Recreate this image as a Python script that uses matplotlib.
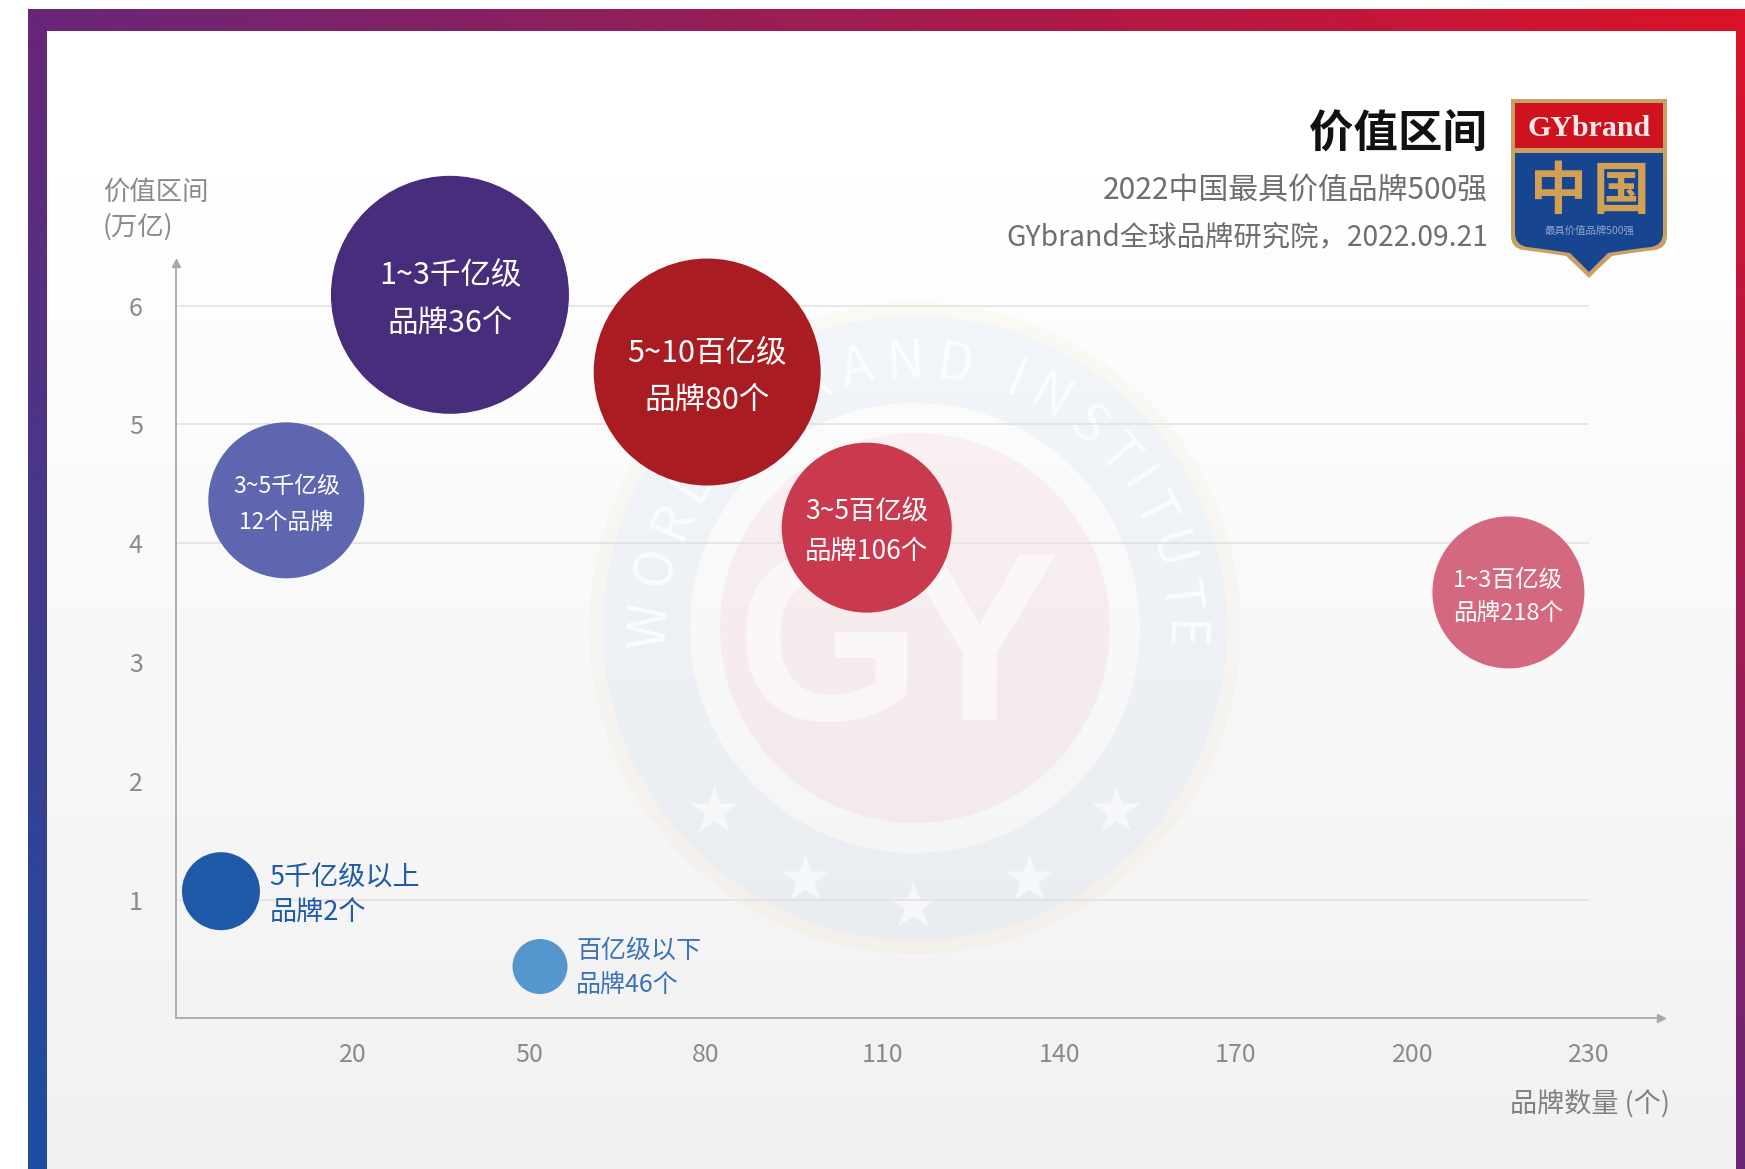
import numpy as np
import matplotlib
matplotlib.use("Agg")
import matplotlib.pyplot as plt
from matplotlib.patches import Circle, Wedge, PathPatch, Rectangle
from matplotlib.path import Path

plt.rcParams['font.family'] = ['Noto Sans CJK SC', 'DejaVu Sans']

# ---------- data ----------
brand_counts = [36.5, 80.2, 107.3, 216.3, 8.7, -2.4, 51.8]
value_range = [6.09, 5.44, 4.13, 3.585, 4.36, 1.07, 0.436]
bubble_area = [29364, 26712, 14982, 11977, 12616, 3154, 1568]
bubble_labels = ['1~3千亿级\n品牌36个', '5~10百亿级\n品牌80个', '3~5百亿级\n品牌106个',
                 '1~3百亿级\n品牌218个', '3~5千亿级\n12个品牌', '5千亿级以上\n品牌2个', '百亿级以下\n品牌46个']
bubble_colors = ['#472d7b', '#a91c22', '#c93a4e', '#d4687e', '#5e66b0', '#1f5aa8', '#5596cf']
label_sizes = [22, 22, 19, 17, 16.5, 19.5, 18]
label_spacing = [1.75, 1.7, 1.58, 1.54, 1.7, 1.35, 1.45]
x_ticks = [20, 50, 80, 110, 140, 170, 200, 230]
y_ticks = [1, 2, 3, 4, 5, 6]
grid_levels = [1, 4, 5, 6]
title = '价值区间'
subtitle_1 = '2022中国最具价值品牌500强'
subtitle_2 = 'GYbrand全球品牌研究院，2022.09.21'
y_title = '价值区间\n(万亿)'
x_title = '品牌数量 (个)'

W, H = 1745, 1169
fig = plt.figure(figsize=(W / 100, H / 100), dpi=100, facecolor='white')

# ---------- background in pixel coordinates ----------
bg = fig.add_axes([0, 0, 1, 1], zorder=0)
bg.set_xlim(0, W)
bg.set_ylim(H, 0)
bg.axis('off')

yy, xx = np.mgrid[0:H, 0:W]
t = (xx / W + (1 - yy / H)) / 2
blue, purple, red = np.array([26, 79, 163.]), np.array([104, 38, 120.]), np.array([222, 18, 38.])
frame = np.zeros((H, W, 3))
for c in range(3):
    frame[..., c] = np.interp(t, [0, 0.5, 1], [blue[c], purple[c], red[c]])
img = np.full((H, W, 3), 255.)
mask = (xx >= 28) & (yy >= 9)
img[mask] = frame[mask]
inner = (xx >= 47) & (yy >= 31) & (xx < 1736)
shade = np.interp(yy, [0, 180, 1169], [255, 255, 241])
for c in range(3):
    img[..., c][inner] = shade[inner]
bg.imshow(img / 255, extent=(0, W, H, 0), aspect='auto', interpolation='nearest', zorder=0)

# watermark
cx, cy = 915, 628
bg.add_patch(Wedge((cx, cy), 326, 0, 360, width=14, fc='#e8c98a', alpha=0.07, ec='none', zorder=1))
bg.add_patch(Wedge((cx, cy), 312, 0, 360, width=87, fc='#2a66b8', alpha=0.05, ec='none', zorder=2))
bg.add_patch(Circle((cx, cy), 195, fc='#dc1226', alpha=0.05, ec='none', zorder=3))
bg.text(828, 658, 'G', fontsize=172, fontweight='bold', color='white', alpha=0.6, ha='center', va='center',
        family='Liberation Sans', zorder=4)
bg.text(980, 658, 'Y', fontsize=172, fontweight='bold', color='white', alpha=0.6, ha='center', va='center',
        family='Liberation Sans', zorder=4)
arc = 'WORLD BRAND INSTITUTE'
char_w = {'W': 1.3, 'O': 1.1, 'R': .9, 'L': .8, 'D': 1.0, ' ': .55, 'B': .9, 'A': .95, 'N': 1.05,
          'I': .5, 'S': .85, 'T': .85, 'U': 1.0, 'E': .8}
w = np.array([char_w[ch] for ch in arc])
pos = np.cumsum(w) - w / 2
angs = 186 - 192 * pos / w.sum()
for ch, a in zip(arc, angs):
    r = np.deg2rad(a)
    bg.text(cx + 266 * np.cos(r), cy - 266 * np.sin(r), ch, fontsize=38, color='white', alpha=0.75,
            rotation=a - 90, rotation_mode='anchor', ha='center', va='center', zorder=4)
star_x = [714, 1116, 805, 1029, 913]
star_y = [811, 811, 879, 879, 906]
bg.plot(star_x, star_y, ls='none', marker='*', ms=36, mfc='white', mec='none', alpha=0.6, zorder=4)

# shield logo
def shield(x0, x1, y0, ys, tipy):
    m = (x0 + x1) / 2
    v = [(x0, y0), (x1, y0), (x1, ys), (x1, ys + 12), (x1 - 12, ys + 14), (x1 - 30, ys + 16),
         (x1 - 55, ys + 20), (m + 8, tipy - 8), (m, tipy),
         (m - 8, tipy - 8), (x0 + 55, ys + 20), (x0 + 30, ys + 16),
         (x0 + 12, ys + 14), (x0, ys + 12), (x0, ys), (x0, y0)]
    c = [Path.MOVETO, Path.LINETO, Path.LINETO, Path.CURVE3, Path.CURVE3, Path.CURVE3, Path.CURVE3,
         Path.CURVE3, Path.CURVE3, Path.CURVE3, Path.CURVE3, Path.CURVE3, Path.CURVE3, Path.CURVE3,
         Path.CURVE3, Path.CLOSEPOLY]
    return Path(v, c)

bg.add_patch(PathPatch(shield(1511, 1667, 99, 236, 278), fc='#c9a063', ec='none', zorder=5))
bg.add_patch(PathPatch(shield(1515, 1663, 103, 233, 272), fc='#17458f', ec='none', zorder=6))
bg.add_patch(Rectangle((1515, 103), 148, 45, fc='#d0121f', ec='none', zorder=7))
bg.add_patch(Rectangle((1515, 148), 148, 5, fc='#c9a063', ec='none', zorder=7))
bg.text(1589.5, 128, 'GYbrand', fontsize=21.5, fontweight='bold', color='#fbeaea', family='Liberation Serif',
        ha='center', va='center', zorder=8)
bg.text(1559, 192, '中', fontsize=41, fontweight='bold', color='#d2a055', ha='center', va='center', zorder=8)
bg.text(1621, 192, '国', fontsize=41, fontweight='bold', color='#d2a055', ha='center', va='center', zorder=8)
bg.text(1589.5, 231, '最具价值品牌500强', fontsize=7.5, color='#8fa6cc', ha='center', va='center', zorder=8)

# titles
bg.text(1487, 135, title, fontsize=32, fontweight='bold', color='#111111', ha='right', va='center', zorder=8)
bg.text(1488, 191, subtitle_1, fontsize=21.5, color='#6e6e6e', ha='right', va='center', zorder=8)
bg.text(1488, 237, subtitle_2, fontsize=20.4, color='#6e6e6e', ha='right', va='center', zorder=8)
bg.text(103, 210, y_title, fontsize=19, color='#8a8a8a', ha='left', va='center', linespacing=1.35, zorder=8)
bg.text(1670, 1105, x_title, fontsize=19.5, color='#808080', ha='right', va='center', zorder=8)

# ---------- chart ----------
L, R, B, T = 176.2, 1661, 1018.3, 263
ax = fig.add_axes([L / W, 1 - B / H, (R - L) / W, (B - T) / H], zorder=1)
ax.patch.set_alpha(0)
ax.set_xlim(-10, -10 + (R - L) / 5.887)
ax.set_ylim(0, (B - T) / 118.8)
for s in ('top', 'right'):
    ax.spines[s].set_visible(False)
for s in ('left', 'bottom'):
    ax.spines[s].set_color('#a8a8a8')
    ax.spines[s].set_linewidth(1.3)
ax.plot(1, 0, '>', color='#a8a8a8', ms=6, transform=ax.transAxes, clip_on=False)
ax.plot(0, 1, '^', color='#a8a8a8', ms=6, transform=ax.transAxes, clip_on=False)
ax.hlines(grid_levels, -10, 230, color='#e0e0e0', lw=1.1, zorder=1)
ax.set_xticks(x_ticks)
ax.set_yticks(y_ticks)
ax.tick_params(axis='x', length=0, pad=17, labelsize=18, labelcolor='#8a8a8a')
ax.tick_params(axis='y', length=0, pad=24, labelsize=18, labelcolor='#8a8a8a')

ax.scatter(brand_counts, value_range, s=bubble_area, c=bubble_colors, linewidths=0, zorder=3, clip_on=False)
for i, lab in enumerate(bubble_labels):
    if i < 5:
        ax.annotate(lab, (brand_counts[i], value_range[i]), xytext=(0, -3), textcoords='offset points',
                    color='white', fontsize=label_sizes[i], linespacing=label_spacing[i],
                    ha='center', va='center', multialignment='center', zorder=4)
    else:
        off = 35 if i == 5 else 26
        ax.annotate(lab, (brand_counts[i], value_range[i]), xytext=(off, -3 if i == 5 else -1),
                    textcoords='offset points',
                    color=bubble_colors[i] if i == 5 else '#3a72b8', fontsize=label_sizes[i],
                    linespacing=label_spacing[i], ha='left', va='center', zorder=4)

fig.savefig('out.png', dpi=100)
